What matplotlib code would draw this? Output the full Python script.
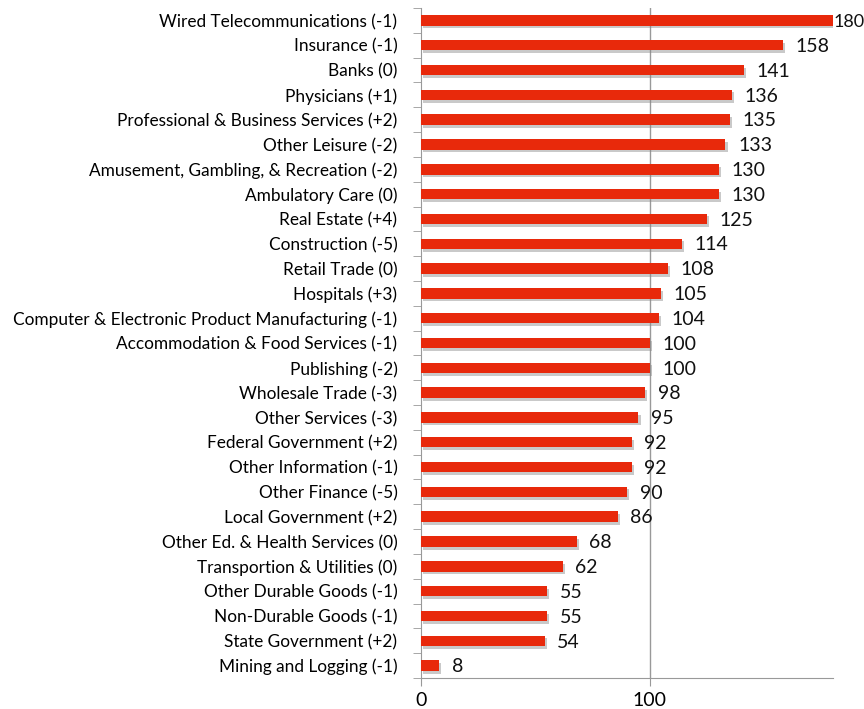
import matplotlib.pyplot as plt
import matplotlib.patheffects as pe
import numpy as np

industries = ['Wired Telecommunications (-1)', 'Insurance (-1)', 'Banks (0)', 'Physicians (+1)',
              'Professional & Business Services (+2)', 'Other Leisure (-2)',
              'Amusement, Gambling, & Recreation (-2)', 'Ambulatory Care (0)', 'Real Estate (+4)',
              'Construction (-5)', 'Retail Trade (0)', 'Hospitals (+3)',
              'Computer & Electronic Product Manufacturing (-1)', 'Accommodation & Food Services (-1)',
              'Publishing (-2)', 'Wholesale Trade (-3)', 'Other Services (-3)',
              'Federal Government (+2)', 'Other Information (-1)', 'Other Finance (-5)',
              'Local Government (+2)', 'Other Ed. & Health Services (0)',
              'Transportion & Utilities (0)', 'Other Durable Goods (-1)', 'Non-Durable Goods (-1)',
              'State Government (+2)', 'Mining and Logging (-1)']
values = [180, 158, 141, 136, 135, 133, 130, 130, 125, 114, 108, 105, 104, 100, 100, 98, 95,
          92, 92, 90, 86, 68, 62, 55, 55, 54, 8]

plt.rcParams['font.family'] = ['Lato', 'DejaVu Sans']

fig = plt.figure(figsize=(8.64, 7.09), dpi=100)
ax = fig.add_axes([421 / 864, 1 - 678 / 709, 412 / 864, 670 / 709])

n = len(values)
y = np.arange(n)
bars = ax.barh(y, values, height=0.42, color='#e8290b', zorder=3,
               path_effects=[pe.SimplePatchShadow(offset=(1.5, -2), shadow_rgbFace='#888888', alpha=0.45),
                             pe.Normal()])

xmax = 180
for yi, v in zip(y, values):
    # the longest bar's label sits tight against the bar end, as in the original
    if v >= xmax:
        ax.text(v + 0.2, yi + 0.05, str(v), va='center', ha='left', fontsize=13,
                color='#111111', zorder=4, clip_on=False)
    else:
        ax.text(v + 5.5, yi + 0.05, str(v), va='center', ha='left', fontsize=14,
                color='#111111', zorder=4, clip_on=False)

ax.set_xlim(0, xmax)
ax.set_ylim(n - 0.5, -0.5)
ax.set_xticks([0, 100])
ax.set_xticklabels(['0', '100'], fontsize=14)
ax.set_yticks(y)
ax.set_yticklabels(industries, fontsize=12.4)
ax.tick_params(axis='y', length=0, pad=17)
ax.set_yticks(np.arange(-0.5, n, 1), minor=True)
ax.tick_params(axis='y', which='minor', length=6, color='#999999')
ax.tick_params(axis='x', length=6, color='#999999', pad=4)
ax.axvline(100, color='#999999', lw=1, zorder=1)

for s in ['top', 'right']:
    ax.spines[s].set_visible(False)
for s in ['left', 'bottom']:
    ax.spines[s].set_color('#999999')

fig.savefig('out.png', dpi=100)
